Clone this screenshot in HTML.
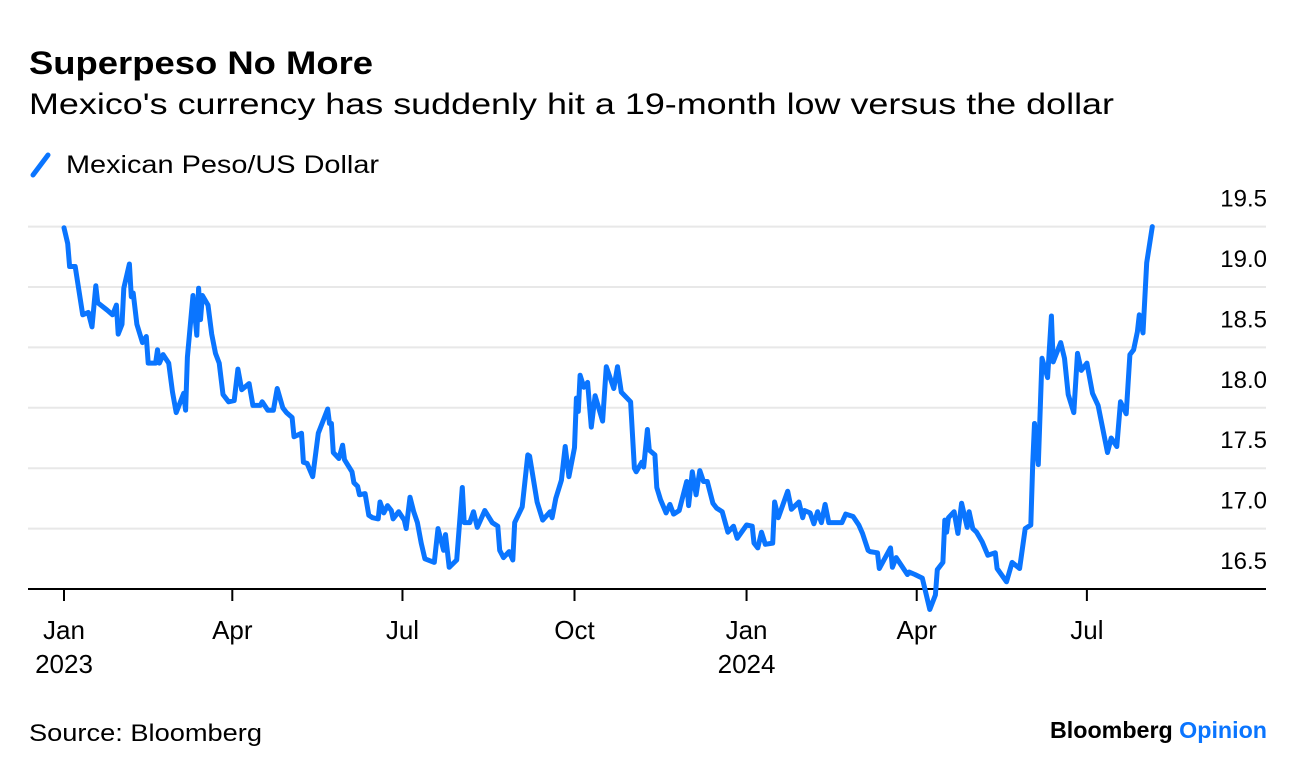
<!DOCTYPE html>
<html><head><meta charset="utf-8"><style>
body{margin:0;background:#fff;width:1296px;height:774px;overflow:hidden;font-family:"Liberation Sans",sans-serif;color:#000}
</style></head><body>
<svg id="chart" width="1296" height="774" xmlns="http://www.w3.org/2000/svg" font-family="Liberation Sans, sans-serif">
<text x="29" y="74" font-size="32" font-weight="bold" textLength="344" lengthAdjust="spacingAndGlyphs">Superpeso No More</text>
<text x="29" y="114" font-size="30" textLength="1085" lengthAdjust="spacingAndGlyphs">Mexico's currency has suddenly hit a 19-month low versus the dollar</text>
<g>
<line x1="33" y1="175" x2="48" y2="155" stroke="#0a75ff" stroke-width="5" stroke-linecap="round"/>
<text x="66" y="173" font-size="25" textLength="313" lengthAdjust="spacingAndGlyphs">Mexican Peso/US Dollar</text>
</g>
<g id="grid"></g>
<g id="xaxis"></g>
<g id="series"></g>
<text x="29" y="741" font-size="24" textLength="233" lengthAdjust="spacingAndGlyphs">Source: Bloomberg</text>
<text x="1050" y="738" font-size="23" font-weight="bold" textLength="217" lengthAdjust="spacingAndGlyphs">Bloomberg <tspan fill="#0a75ff">Opinion</tspan></text>
</svg>
<script>
const days=[0,2,3,6,10,13,15,17,18,23,26,28,29,31,32,35,36,37,39,42,44,45,49,50,51,53,56,58,60,64,65,66,69,71,72,73,74,77,79,81,83,85,88,91,93,95,99,101,105,106,109,112,114,117,119,122,123,127,128,130,133,136,141,142,143,144,147,149,150,154,155,157,158,161,163,165,168,169,171,173,175,176,179,182,183,185,187,189,191,193,198,200,203,204,206,210,213,214,217,219,221,225,229,232,233,235,238,240,241,245,248,249,253,256,260,261,263,266,268,270,273,274,275,276,278,280,282,284,288,290,294,296,298,303,305,306,309,310,312,313,316,317,319,322,324,326,329,333,334,336,338,340,342,344,347,349,352,355,358,360,365,368,369,371,373,375,379,380,382,387,389,393,395,396,399,401,403,405,407,409,413,416,418,422,425,427,430,431,435,436,442,443,445,451,452,455,459,463,466,467,470,471,472,473,476,478,480,483,484,486,488,491,494,498,499,504,507,511,514,517,518,519,521,523,526,528,529,533,535,537,540,542,544,547,550,553,558,560,563,565,568,570,572,574,575,577,579,582];
const values=[19.49,19.36,19.17,19.17,18.77,18.79,18.67,19.01,18.87,18.81,18.77,18.85,18.61,18.69,18.99,19.19,18.92,18.95,18.69,18.54,18.59,18.37,18.37,18.48,18.37,18.44,18.37,18.13,17.96,18.12,17.98,18.42,18.93,18.60,18.99,18.73,18.93,18.85,18.61,18.45,18.37,18.11,18.05,18.06,18.32,18.15,18.20,18.02,18.02,18.05,17.98,17.98,18.16,18.00,17.96,17.92,17.76,17.79,17.55,17.54,17.43,17.79,17.99,17.87,17.87,17.63,17.58,17.69,17.57,17.47,17.38,17.35,17.28,17.29,17.11,17.09,17.08,17.22,17.13,17.19,17.15,17.08,17.14,17.07,17.00,17.26,17.14,17.05,16.88,16.75,16.72,17.00,16.82,16.95,16.68,16.74,17.34,17.05,17.05,17.14,17.01,17.15,17.05,17.02,16.82,16.76,16.81,16.74,17.05,17.18,17.61,17.60,17.22,17.07,17.14,17.09,17.25,17.40,17.68,17.43,17.67,18.08,17.97,18.27,18.17,18.21,17.84,18.10,17.89,18.34,18.16,18.34,18.13,18.05,17.50,17.47,17.55,17.51,17.82,17.65,17.61,17.34,17.24,17.13,17.20,17.12,17.15,17.39,17.19,17.47,17.28,17.48,17.39,17.39,17.21,17.17,17.14,16.97,17.02,16.92,17.03,17.02,16.88,16.84,16.97,16.87,16.88,17.22,17.09,17.31,17.16,17.22,17.09,17.15,17.13,17.04,17.14,17.05,17.20,17.05,17.05,17.05,17.12,17.10,17.03,16.96,16.82,16.81,16.80,16.67,16.84,16.68,16.76,16.62,16.64,16.62,16.59,16.33,16.45,16.66,16.72,17.07,16.97,17.09,17.14,16.96,17.21,17.01,17.14,17.00,16.97,16.89,16.78,16.80,16.67,16.56,16.72,16.67,17.00,17.03,17.53,17.87,17.53,18.41,18.25,18.76,18.38,18.54,18.41,18.11,17.96,18.45,18.31,18.37,18.12,18.02,17.63,17.75,17.68,18.05,17.95,18.44,18.48,18.63,18.77,18.62,19.20,19.50];
const yTicks=[16.5,17.0,17.5,18.0,18.5,19.0,19.5];
const xTickDays=[0,90,181,273,365,456,547];
const xTickMonths=["Jan","Apr","Jul","Oct","Jan","Apr","Jul"];
const xTickYears=["2023","","","","2024","",""];

const NS="http://www.w3.org/2000/svg";
function xs(d){return 64+d*1.87;}
function ys(v){return 589-(v-16.5)*120.8;}
function mk(tag,attrs,parent){const e=document.createElementNS(NS,tag);for(const k in attrs)e.setAttribute(k,attrs[k]);parent.appendChild(e);return e;}
const grid=document.getElementById('grid');
yTicks.forEach(function(t){
  if(t>16.5){
    const l=mk('line',{x1:28,x2:1266,y1:ys(t),y2:ys(t),stroke:'#e8e8e8','stroke-width':2},grid);
    
    
  }
  const tx=mk('text',{x:1267,y:ys(t)-20,'font-size':24,'text-anchor':'end'},grid);
  tx.textContent=t.toFixed(1);
  
  
});
const xa=document.getElementById('xaxis');
const ax=mk('line',{x1:28,x2:1266,y1:589,y2:589,stroke:'#000','stroke-width':2},xa);


xTickDays.forEach(function(d,i){
  const tk=mk('line',{x1:xs(d),x2:xs(d),y1:589,y2:601,stroke:'#000','stroke-width':2},xa);
  
  
  const t=mk('text',{x:xs(d),y:639,'font-size':26,'text-anchor':'middle'},xa);
  t.textContent=xTickMonths[i];
  
  
  if(xTickYears[i]){
    const y=mk('text',{x:xs(d),y:673,'font-size':26,'text-anchor':'middle'},xa);
    y.textContent=xTickYears[i];
    
    
  }
});
const pts=days.map(function(d,i){return xs(d).toFixed(1)+','+ys(values[i]).toFixed(1);}).join(' ');
const pl=mk('polyline',{points:pts,fill:'none',stroke:'#0a75ff','stroke-width':5,'stroke-linejoin':'round','stroke-linecap':'round'},document.getElementById('series'));


</script>
</body></html>
